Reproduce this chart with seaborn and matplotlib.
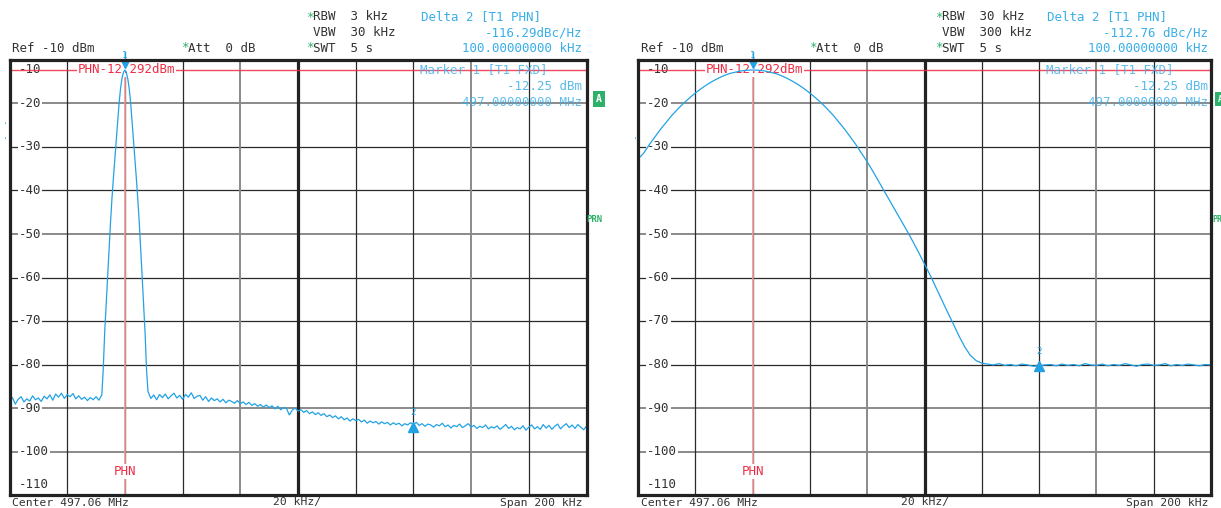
import numpy as np
import pandas as pd
import matplotlib
matplotlib.use("Agg")
import matplotlib.pyplot as plt
import seaborn as sns

W, H = 1221, 508

# levels in dBm, frequency given as offset from centre 497.06 MHz in kHz
# left screen: noise floor left of the carrier, 1 kHz steps from -100 to -68
left_floor_a = [-88.3, -87.6, -89.1, -88.0, -87.4, -88.6, -87.9, -88.4, -87.2, -88.1,
                -87.7, -88.5, -87.3, -87.9, -87.0, -88.2, -86.8, -87.5, -86.6, -87.8,
                -86.9, -87.4, -86.7, -87.9, -87.2, -88.0, -87.5, -88.3, -87.6, -88.1,
                -87.4, -88.2, -87.0]
# carrier, 0.5 kHz steps from -67.5 to -52.5
left_peak = [-81.0, -72.5, -66.2, -60.0, -53.5, -47.5, -42.0, -37.3, -33.0, -28.5,
             -24.0, -19.8, -16.5, -14.2, -12.8, -12.3, -12.9, -14.3, -16.6, -19.9,
             -24.2, -28.6, -33.1, -37.5, -42.3, -47.6, -53.7, -60.1, -66.4, -72.8,
             -81.2]
# noise floor right of the carrier, 1 kHz steps from -52 to 100
left_floor_b = [-86.2, -87.8, -87.0, -88.1, -86.9, -87.6, -86.8, -87.9, -87.2, -86.6,
                -87.7, -87.1, -88.0, -86.9, -87.5, -86.5, -87.8, -87.3,
                -87.1, -88.2, -87.4, -88.5, -87.7, -88.3, -87.9, -88.6, -88.0, -88.8,
                -88.2, -88.5, -88.9, -88.3, -89.0,
                -88.6, -89.2, -88.7, -89.4, -89.0, -89.6, -89.2, -89.8, -89.3, -89.9,
                -89.5, -90.2, -89.6, -90.4, -89.9, -90.1, -91.6, -90.5, -90.0, -90.7,
                -90.4, -91.0, -90.6, -91.3, -90.9, -91.5, -91.1, -91.7, -91.3, -92.0,
                -91.6, -92.2, -91.8, -92.5, -92.0, -92.7, -92.3, -93.0, -92.5, -92.9,
                -92.6, -93.2, -92.8, -93.5, -93.0, -93.4, -93.1, -93.7, -93.2, -93.6,
                -93.3, -93.9, -93.4, -93.8, -93.5, -94.1, -93.6, -93.9, -93.4, -93.8,
                -93.3, -94.0, -93.6, -94.2, -93.7, -93.9, -94.4, -93.8, -94.1, -93.5,
                -94.3, -93.9, -94.6, -94.0, -94.3, -93.7, -94.5, -94.1, -93.6, -94.4,
                -94.0, -94.7, -94.2, -94.5, -93.9, -94.8, -94.3, -94.6, -94.1, -94.9,
                -94.4, -93.8, -94.7, -94.2, -95.0, -94.5, -94.8, -94.1, -95.1, -94.4,
                -93.9, -94.8, -94.3, -94.9, -93.8, -94.6, -94.0, -94.9, -94.2, -93.7,
                -94.8, -94.1, -93.6, -94.5, -93.9, -94.7, -93.8, -94.4, -95.0, -94.2]
# right screen (RBW 30 kHz), 2 kHz steps from -100 to 100
right_trace = [-32.8, -31.4, -29.4, -27.6, -25.8, -24.2, -22.6, -21.2, -19.9, -18.7,
               -17.6, -16.6, -15.7, -14.9, -14.2, -13.6, -13.1, -12.8, -12.5, -12.35,
               -12.3, -12.35, -12.5, -12.8, -13.1, -13.6, -14.2, -14.9, -15.7, -16.6,
               -17.6, -18.7, -19.9, -21.2, -22.6, -24.2, -25.8, -27.6, -29.4, -31.4,
               -33.4, -35.6, -37.9, -40.2, -42.5, -44.8, -47.1, -49.4, -51.8, -54.3,
               -56.9, -59.5, -62.3, -65.1, -67.9, -70.6, -73.4, -75.9, -77.9, -79.1,
               -79.7, -79.9, -80.1, -79.8, -80.2, -80.0, -80.3, -79.9, -80.1, -80.4,
               -80.3, -80.1, -80.0, -80.3, -79.9, -80.2, -80.0, -80.3, -79.8, -80.1,
               -80.2, -79.9, -80.3, -80.0, -80.2, -79.8, -80.1, -80.4, -80.0, -79.9,
               -80.2, -80.1, -79.8, -80.3, -80.0, -80.2, -79.9, -80.1, -80.3, -80.0,
               -80.1]

y_labels = [-20, -30, -40, -50, -60, -70, -80, -90, -100]
x_grid = [-80, -60, -40, -20, 20, 40, 60, 80]
light_h = [-20, -50, -90, -100]
light_v = [-20, 60]

ref_level = -12.292
marker_f = -60
delta_f = 40

left_header = ["3 kHz", "30 kHz", "-116.29dBc/Hz", "Delta 2 [T1 PHN]"]
right_header = ["30 kHz", "300 kHz", "-112.76 dBc/Hz", "Delta 2 [T1 PHN]"]

sns.set_style("white")
plt.rcParams['font.family'] = ['DejaVu Sans Mono', 'DejaVu Sans']

BLUE = '#22a2e4'
TXT_BLUE = '#39aee8'
RED = '#ee2d45'
GREEN = '#2eb06a'
DARK = '#333333'
FS = 9

fig = plt.figure(figsize=(W / 100, H / 100), dpi=100)


def ftxt(x, y, s, **kw):
    kw.setdefault('fontsize', FS)
    kw.setdefault('va', 'center')
    fig.text(x / W, 1 - y / H, s, **kw)


def build_left():
    f_a = np.linspace(-100, -68, len(left_floor_a))
    f_p = np.linspace(-67.5, -52.5, len(left_peak))
    f_b = np.linspace(-52, 100, len(left_floor_b))
    return pd.DataFrame({'freq': np.concatenate([f_a, f_p, f_b]),
                         'level': left_floor_a + left_peak + left_floor_b})


def build_right():
    return pd.DataFrame({'freq': np.linspace(-100, 100, len(right_trace)),
                         'level': right_trace})


def screen(ax, df, m2_level):
    ax.set_xlim(-100, 100)
    ax.set_ylim(-110, -10)
    ax.set_xticks([])
    ax.set_yticks([])
    for s in ax.spines.values():
        s.set_color('#222222')
        s.set_linewidth(2.3)
        s.set_visible(True)
        s.set_zorder(6)

    for v in y_labels:
        c, lw = ('#8a8a8a', 1.4) if v in light_h else ('#2a2a2a', 0.9)
        ax.axhline(v, color=c, lw=lw, zorder=1)
    for v in x_grid:
        c, lw = ('#8a8a8a', 1.4) if v in light_v else ('#2a2a2a', 0.9)
        ax.axvline(v, color=c, lw=lw, zorder=1)
    ax.axvline(0, color='#222222', lw=2.3, zorder=1)

    # level labels inside the grid (under the trace)
    box = dict(facecolor='white', edgecolor='none', pad=0.6)
    tr = ax.get_yaxis_transform()
    ax.text(0.016, ref_level, "-10", transform=tr, ha='left', va='center',
            fontsize=FS, color=DARK, bbox=box, zorder=2)
    for v in y_labels:
        ax.text(0.016, v, str(v), transform=tr, ha='left', va='center',
                fontsize=FS, color=DARK, bbox=box, zorder=2)
    ax.text(0.016, -107.6, "-110", transform=tr, ha='left', va='center',
            fontsize=FS, color=DARK, bbox=box, zorder=2)

    # reference / marker lines
    ax.axhline(ref_level, color=RED, lw=1.0, alpha=0.85, zorder=2.2)
    ax.axvline(marker_f, color='#f39a9a', lw=1.2, zorder=2.2)
    ax.text(-76.3, ref_level, "PHN-12.292dBm", ha='left', va='center',
            fontsize=FS, color=RED, bbox=box, zorder=2.4)
    ax.text(marker_f, -104.6, "PHN", ha='center', va='center',
            fontsize=FS, color=RED, bbox=box, zorder=2.4)

    sns.lineplot(data=df, x='freq', y='level', ax=ax, color=BLUE, lw=0.9,
                 estimator=None, sort=False, zorder=3)
    ax.set_xlabel('')
    ax.set_ylabel('')

    # marker 1 and delta marker 2
    ax.plot([marker_f], [-11.0], marker='v', ms=6, color=BLUE, zorder=5, clip_on=False)
    ax.plot([marker_f, marker_f], [-10, -8.2], color=BLUE, lw=1, zorder=5, clip_on=False)
    ax.text(marker_f, -9.0, "1", ha='center', va='center', fontsize=6.5,
            color=BLUE, zorder=5, clip_on=False)
    ax.plot([delta_f], [m2_level], marker='^', ms=6.5, color=BLUE, zorder=5)
    ax.text(delta_f, m2_level + 3.3, "2", ha='center', va='center', fontsize=6.5,
            color=BLUE, zorder=5)


ax1 = fig.add_axes([9.5 / W, 1 - 495 / H, 577 / W, 435 / H])
ax2 = fig.add_axes([638 / W, 1 - 495 / H, 573 / W, 435 / H])
screen(ax1, build_left(), -94.3)
screen(ax2, build_right(), -80.4)

# header blocks above each screen
for x0, xr, hdr in [(0, 582, left_header), (630, 1208, right_header)]:
    xl = 12 if x0 == 0 else 641
    ftxt(xl, 48, "Ref -10 dBm", color=DARK)
    xt = 181 if x0 == 0 else 809
    ftxt(xt, 48, "*", color=GREEN)
    ftxt(xt + 7, 48, "Att  0 dB", color=DARK)
    xa = 306 if x0 == 0 else 935
    ftxt(xa, 17, "*", color=GREEN)
    ftxt(xa + 7, 17, "RBW  " + hdr[0], color=DARK)
    ftxt(xa + 7, 33, "VBW  " + hdr[1], color=DARK)
    ftxt(xa, 48, "*", color=GREEN)
    ftxt(xa + 7, 48, "SWT  5 s", color=DARK)
    xd = 421 if x0 == 0 else 1047
    ftxt(xd, 17, hdr[3], color=TXT_BLUE)
    ftxt(xr, 33, hdr[2], color=TXT_BLUE, ha='right')
    ftxt(xr, 48, "100.00000000 kHz", color=TXT_BLUE, ha='right')
    # marker readout inside the grid
    ftxt(xd - 1, 70, "Marker 1 [T1 FXD]", color=TXT_BLUE, alpha=0.8)
    ftxt(xr, 86, "-12.25 dBm", color=TXT_BLUE, alpha=0.85, ha='right')
    ftxt(xr, 103, "497.00000000 MHz", color=TXT_BLUE, alpha=0.8, ha='right')
    # footer
    ftxt(xl, 502.5, "Center 497.06 MHz", color=DARK, fontsize=8.2)
    ftxt(297 if x0 == 0 else 925, 502.5, "20 kHz/", color=DARK, ha='center', fontsize=8.2)
    ftxt(xr, 502.5, "Span 200 kHz", color=DARK, ha='right', fontsize=8.2)

# side annotations
ftxt(599, 99, "A", color='white', ha='center', fontsize=7, fontweight='bold',
     bbox=dict(facecolor=GREEN, edgecolor='none', boxstyle='square,pad=0.35'))
ftxt(1218, 99, "A", color='white', ha='left', fontsize=6, fontweight='bold',
     bbox=dict(facecolor=GREEN, edgecolor='none', boxstyle='square,pad=0.35'))
ftxt(586, 219, "PRN", color=GREEN, ha='left', fontsize=6.5, fontweight='bold')
ftxt(1212, 219, "PR", color=GREEN, ha='left', fontsize=6, fontweight='bold')
ftxt(3, 126, "'", color=TXT_BLUE, fontsize=6)
ftxt(3, 141, "'", color=TXT_BLUE, fontsize=6)
ftxt(633, 141, "'", color=TXT_BLUE, fontsize=6)

fig.savefig("out.png", dpi=100, facecolor='white')
